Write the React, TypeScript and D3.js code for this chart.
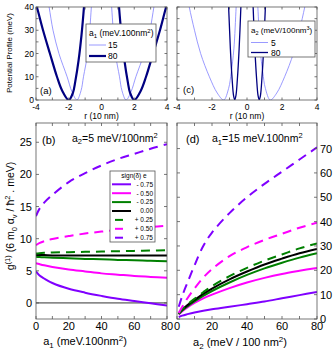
import React from "react";
import * as d3 from "d3";

const FONT = "'Liberation Sans', Arial, Helvetica, sans-serif";
const FRAME = "#555";

type Pt = [number, number];

// ---- panel (a): potential profile, r (10 nm) vs V (meV), a2 = 5
const a1Legend = ["15", "80"];
const potA15Left: Pt[] = [[-3.35, 46], [-3.2, 40], [-2.96, 30], [-2.6, 20], [-2.1, 10], [-1.8, 3.5], [-1.5, 0], [-1.25, 4], [-1.1, 10], [-0.85, 20], [-0.62, 40], [-0.55, 50]];
const potA15Right: Pt[] = [[0.55, 50], [0.62, 40], [0.85, 20], [1.1, 10], [1.25, 4], [1.5, 0], [1.8, 3.5], [2.1, 10], [2.6, 20], [2.96, 30], [3.2, 40], [3.35, 46]];
const potA80Left: Pt[] = [[-4.05, 42], [-3.95, 40], [-3.57, 30], [-3.15, 20], [-2.72, 10], [-2.4, 4], [-2.0, 0], [-1.75, 3], [-1.6, 8], [-1.4, 17], [-1.22, 28], [-1.07, 40], [-1.0, 47]];
const potA80Right: Pt[] = [[1.0, 47], [1.07, 40], [1.22, 28], [1.4, 17], [1.6, 8], [1.75, 3], [2.0, 0], [2.4, 4], [2.72, 10], [3.15, 20], [3.57, 30], [3.95, 40], [4.05, 42]];

// ---- panel (c): potential profile, a1 = 15
const a2Legend = ["5", "80"];
const potC5Left: Pt[] = [[-3.45, 46], [-3.3, 40], [-3.0, 30], [-2.65, 20], [-2.15, 10], [-1.7, 3], [-1.33, 0], [-1.05, 5], [-0.9, 12], [-0.75, 22], [-0.62, 40], [-0.55, 50]];
const potC5Right: Pt[] = [[0.55, 50], [0.62, 40], [0.75, 22], [0.9, 12], [1.05, 5], [1.33, 0], [1.7, 3], [2.15, 10], [2.65, 20], [3.0, 30], [3.3, 40], [3.45, 46]];
const potC80Left: Pt[] = [[-1.1, 46], [-1.05, 40], [-0.95, 22], [-0.85, 9], [-0.77, 2], [-0.7, 0], [-0.63, 2], [-0.55, 9], [-0.45, 22], [-0.35, 40], [-0.3, 50]];
const potC80Right: Pt[] = [[0.3, 50], [0.35, 40], [0.45, 22], [0.55, 9], [0.63, 2], [0.7, 0], [0.77, 2], [0.85, 9], [0.95, 22], [1.05, 40], [1.1, 46]];

// ---- panel (b): g(1) vs a1, a2 = 5
const a1Grid = [0, 2, 5, 10, 20, 30, 40, 50, 60, 70, 80];
const bM075 = [4.9, 4.3, 3.8, 3.1, 2.2, 1.6, 1.1, 0.65, 0.3, -0.05, -0.4];
const bM050 = [6.2, 6.05, 5.85, 5.6, 5.2, 4.9, 4.6, 4.4, 4.2, 4.05, 3.9];
const bM025 = [7.2, 7.15, 7.1, 7.05, 6.95, 6.85, 6.8, 6.7, 6.65, 6.55, 6.5];
const bZ000 = [7.45, 7.45, 7.45, 7.4, 7.4, 7.4, 7.4, 7.4, 7.4, 7.4, 7.4];
const bP025 = [7.7, 7.75, 7.8, 7.85, 7.9, 7.95, 8.0, 8.05, 8.1, 8.15, 8.2];
const bP050 = [9.0, 9.3, 9.6, 9.95, 10.4, 10.8, 11.1, 11.35, 11.6, 11.8, 12.0];
const bP075 = [13.5, 14.6, 15.6, 16.8, 18.8, 20.2, 21.4, 22.4, 23.2, 24.0, 24.7];

// ---- panel (d): g(1) vs a2, a1 = 15
const a2Grid = [1, 3, 6, 10, 15, 20, 30, 40, 50, 60, 70, 80];
const dM075 = [0.8, 1.4, 2.0, 2.7, 3.4, 4.0, 5.0, 6.1, 7.2, 8.5, 9.8, 11.1];
const dM050 = [1.8, 3.2, 4.8, 6.6, 8.5, 10, 12.7, 15, 16.9, 18.5, 19.8, 21];
const dM025 = [2.0, 3.5, 5.2, 7.2, 9.5, 11.5, 15, 18.1, 20.8, 23.1, 25.2, 27];
const dZ000 = [2.2, 3.8, 5.7, 7.8, 10.3, 12.5, 16.3, 19.5, 22.4, 24.8, 27, 28.8];
const dP025 = [2.2, 4, 6, 8.3, 11, 13.5, 17.6, 21, 24, 26.5, 29, 31];
const dP050 = [2.5, 5, 8.5, 12.5, 17, 20.5, 25.8, 29.5, 32.5, 35, 37.5, 39.5];
const dP075 = [5, 9.5, 15, 22, 30, 35.5, 43.5, 50, 55.5, 60.5, 65.5, 70.5];

const signLabels = ["- 0.75", "- 0.50", "- 0.25", "0.00", "+ 0.25", "+ 0.50", "+ 0.75"];

const PURPLE = "#8000ff";
const MAGENTA = "#ff00ff";
const GREEN = "#008000";
const LIGHT = "#8080ff";
const NAVY = "#000080";

const styles = [
  { color: PURPLE, dash: false },
  { color: MAGENTA, dash: false },
  { color: GREEN, dash: false },
  { color: "#000", dash: false },
  { color: GREEN, dash: true },
  { color: MAGENTA, dash: true },
  { color: PURPLE, dash: true },
];
const bSeries = [bM075, bM050, bM025, bZ000, bP025, bP050, bP075];
const dSeries = [dM075, dM050, dM025, dZ000, dP025, dP050, dP075];

// scales
const xA = d3.scaleLinear().domain([-4, 4]).range([36, 167]);
const yA = d3.scaleLinear().domain([0, 40]).range([100, 7]);
const xC = d3.scaleLinear().domain([-4, 4]).range([177, 317]);
const yC = yA;
const xB = d3.scaleLinear().domain([0, 80]).range([36, 167]);
const yB = d3.scaleLinear().domain([-2.5, 28]).range([319, 123]);
const xD = d3.scaleLinear().domain([0, 80]).range([177, 317]);
const yD = d3.scaleLinear().domain([0, 80.5]).range([319, 123]);

const makeLine = (x: any, y: any) =>
  d3.line<Pt>().x((d) => x(d[0])).y((d) => y(d[1])).curve(d3.curveCatmullRom.alpha(0.5));

function Frame({ x, y, xs, ys, len = 2.5 }: any) {
  const [x0, x1] = x.range();
  const [yb, yt] = y.range();
  return (
    <g stroke={FRAME} strokeWidth={0.8} fill="none">
      <rect x={x0} y={yt} width={x1 - x0} height={yb - yt} />
      {xs.map((v: number) => (
        <g key={"x" + v}>
          <line x1={x(v)} x2={x(v)} y1={yb} y2={yb - len} />
          <line x1={x(v)} x2={x(v)} y1={yt} y2={yt + len} />
        </g>
      ))}
      {ys.map((v: number) => (
        <g key={"y" + v}>
          <line x1={x0} x2={x0 + len} y1={y(v)} y2={y(v)} />
          <line x1={x1} x2={x1 - len} y1={y(v)} y2={y(v)} />
        </g>
      ))}
    </g>
  );
}

function Clip({ id, x, y }: any) {
  const [x0, x1] = x.range();
  const [yb, yt] = y.range();
  return (
    <clipPath id={id}>
      <rect x={x0} y={yt} width={x1 - x0} height={yb - yt} />
    </clipPath>
  );
}

export default function App() {
  const lA = makeLine(xA, yA);
  const lC = makeLine(xC, yC);
  const lB = makeLine(xB, yB);
  const lD = makeLine(xD, yD);

  const topXT = [-4, -2, 0, 2, 4];
  const topYT = [0, 10, 20, 30, 40];

  return (
    <svg width={336} height={355} style={{ position: "absolute", left: 0, top: 0, background: "#fff" }} fontFamily={FONT}>
      <defs>
        <Clip id="ca" x={xA} y={yA} />
        <Clip id="cc" x={xC} y={yC} />
        <Clip id="cb" x={xB} y={yB} />
        <Clip id="cd" x={xD} y={yD} />
      </defs>

      {/* ---------- (a) ---------- */}
      <g clipPath="url(#ca)" fill="none">
        <path d={lA(potA15Left) || ""} stroke={LIGHT} strokeWidth={0.8} />
        <path d={lA(potA15Right) || ""} stroke={LIGHT} strokeWidth={0.8} />
        <path d={lA(potA80Left) || ""} stroke={NAVY} strokeWidth={2.2} />
        <path d={lA(potA80Right) || ""} stroke={NAVY} strokeWidth={2.2} />
      </g>
      <Frame x={xA} y={yA} xs={d3.range(-4, 4.1, 1)} ys={d3.range(0, 41, 5)} />
      <g fontSize={8.5} fill="#000">
        {topYT.map((v) => (
          <text key={v} x={34} y={yA(v) + 3} textAnchor="end">{v}</text>
        ))}
        {topXT.map((v) => (
          <text key={v} x={xA(v)} y={109.5} textAnchor="middle">{v}</text>
        ))}
        <text x={xA(0)} y={119} textAnchor="middle">r (10 nm)</text>
        <text x={40} y={93.5} fontSize={9.5}>(a)</text>
        <text transform="translate(12,53) rotate(-90)" textAnchor="middle" fontSize={8}>Potential Profile (meV)</text>
      </g>
      {/* legend (a) */}
      <g>
        <rect x={86} y={24} width={70} height={38} fill="#fff" stroke={FRAME} strokeWidth={0.8} />
        <text x={89} y={36} fontSize={8.5}>
          a<tspan fontSize={6} dy={2}>1</tspan><tspan dy={-2}> (meV.100nm</tspan><tspan fontSize={6} dy={-3}>2</tspan><tspan dy={3}>)</tspan>
        </text>
        {a1Legend.map((lab, i) => (
          <g key={lab}>
            <line x1={89} x2={106} y1={45 + i * 11} y2={45 + i * 11} stroke={i === 0 ? LIGHT : NAVY} strokeWidth={i === 0 ? 0.8 : 2.2} />
            <text x={108} y={48 + i * 11} fontSize={8.5}>{lab}</text>
          </g>
        ))}
      </g>

      {/* ---------- (c) ---------- */}
      <g clipPath="url(#cc)" fill="none">
        <path d={lC(potC5Left) || ""} stroke={LIGHT} strokeWidth={0.8} />
        <path d={lC(potC5Right) || ""} stroke={LIGHT} strokeWidth={0.8} />
        <path d={lC(potC80Left) || ""} stroke={NAVY} strokeWidth={1.3} />
        <path d={lC(potC80Right) || ""} stroke={NAVY} strokeWidth={1.3} />
      </g>
      <Frame x={xC} y={yC} xs={d3.range(-4, 4.1, 1)} ys={d3.range(0, 41, 5)} />
      <g fontSize={8.5} fill="#000">
        {topXT.map((v) => (
          <text key={v} x={xC(v)} y={109.5} textAnchor="middle">{v}</text>
        ))}
        <text x={xC(0)} y={119} textAnchor="middle">r (10 nm)</text>
        <text x={183} y={93} fontSize={9.5}>(c)</text>
      </g>
      <g>
        <rect x={248} y={21} width={67} height={36} fill="#fff" stroke={FRAME} strokeWidth={0.8} />
        <text x={251} y={33} fontSize={8}>
          a<tspan fontSize={5.5} dy={2}>2</tspan><tspan dy={-2}> (meV/100nm</tspan><tspan fontSize={5.5} dy={-3}>3</tspan><tspan dy={3}>)</tspan>
        </text>
        {a2Legend.map((lab, i) => (
          <g key={lab}>
            <line x1={251} x2={268} y1={42.5 + i * 10} y2={42.5 + i * 10} stroke={i === 0 ? LIGHT : NAVY} strokeWidth={i === 0 ? 0.8 : 1.3} />
            <text x={271} y={45.5 + i * 10} fontSize={8.5}>{lab}</text>
          </g>
        ))}
      </g>

      {/* ---------- (b) ---------- */}
      <line x1={xB(0)} x2={xB(80)} y1={yB(0)} y2={yB(0)} stroke="#000" strokeWidth={0.8} />
      <g clipPath="url(#cb)" fill="none">
        {bSeries.map((vals, i) => (
          <path
            key={i}
            d={lB(vals.map((v, k) => [a1Grid[k], v] as Pt)) || ""}
            stroke={styles[i].color}
            strokeWidth={2}
            strokeDasharray={styles[i].dash ? "9,6" : undefined}
          />
        ))}
      </g>
      <Frame x={xB} y={yB} xs={d3.range(0, 81, 10)} ys={d3.range(0, 26, 5)} len={3} />
      <g fontSize={11} fill="#000">
        {[0, 5, 10, 15, 20, 25].map((v) => (
          <text key={v} x={32} y={yB(v) + 4} textAnchor="end">{v}</text>
        ))}
        {[0, 20, 40, 60, 80].map((v) => (
          <text key={v} x={xB(v)} y={330} textAnchor="middle">{v}</text>
        ))}
        <text x={85} y={345} textAnchor="middle">
          a<tspan fontSize={8} dy={3}>1</tspan><tspan dy={-3}> (meV.100nm</tspan><tspan fontSize={8} dy={-4}>2</tspan><tspan dy={4}>)</tspan>
        </text>
        <text x={42} y={143.5}>(b)</text>
        <text x={72} y={141.5} fontSize={10.5}>
          a<tspan fontSize={7.5} dy={2.5}>2</tspan><tspan dy={-2.5}>=5 meV/100nm</tspan><tspan fontSize={7.5} dy={-4}>2</tspan>
        </text>
        <text transform="translate(14,216) rotate(-90)" textAnchor="middle" fontSize={10.5}>
          g<tspan fontSize={7.5} dy={-4}>(1)</tspan><tspan dy={4}> (6 m</tspan><tspan fontSize={7.5} dy={2.5}>0</tspan><tspan dy={-2.5}> α</tspan><tspan fontSize={7.5} dy={2.5}>v</tspan><tspan dy={-2.5}> / ħ</tspan><tspan fontSize={7.5} dy={-4}>2</tspan><tspan dy={4}> . meV)</tspan>
        </text>
      </g>
      {/* legend (b) */}
      <g>
        <rect x={110} y={171} width={45} height={71} fill="#fff" stroke={FRAME} strokeWidth={0.8} />
        <text x={134} y={177.5} fontSize={6.5} textAnchor="middle">sign(δ) e</text>
        {signLabels.map((lab, i) => {
          const yy = 184.3 + i * 8.9;
          const st = styles[i];
          return (
            <g key={lab}>
              <line x1={st.dash ? 115 : 112} x2={st.dash ? 123 : 131} y1={yy} y2={yy} stroke={st.color} strokeWidth={2} />
              <text x={153} y={yy + 2.3} fontSize={6.5} textAnchor="end">{lab}</text>
            </g>
          );
        })}
      </g>

      {/* ---------- (d) ---------- */}
      <g clipPath="url(#cd)" fill="none">
        {dSeries.map((vals, i) => (
          <path
            key={i}
            d={lD(vals.map((v, k) => [a2Grid[k], v] as Pt)) || ""}
            stroke={styles[i].color}
            strokeWidth={2}
            strokeDasharray={styles[i].dash ? "9,6" : undefined}
          />
        ))}
      </g>
      <Frame x={xD} y={yD} xs={d3.range(0, 81, 10)} ys={d3.range(0, 71, 10)} len={3} />
      <g fontSize={11} fill="#000">
        {d3.range(0, 71, 10).map((v) => (
          <text key={v} x={320} y={yD(v) + 4}>{v}</text>
        ))}
        {[0, 20, 40, 60, 80].map((v) => (
          <text key={v} x={xD(v)} y={330} textAnchor="middle">{v}</text>
        ))}
        <text x={240} y={346} textAnchor="middle">
          a<tspan fontSize={8} dy={3}>2</tspan><tspan dy={-3}> (meV / 100 nm</tspan><tspan fontSize={8} dy={-4}>2</tspan><tspan dy={4}>)</tspan>
        </text>
        <text x={186} y={143}>(d)</text>
        <text x={212} y={142} fontSize={10.5}>
          a<tspan fontSize={7.5} dy={2.5}>1</tspan><tspan dy={-2.5}>=15 meV.100nm</tspan><tspan fontSize={7.5} dy={-4}>2</tspan>
        </text>
      </g>
    </svg>
  );
}
